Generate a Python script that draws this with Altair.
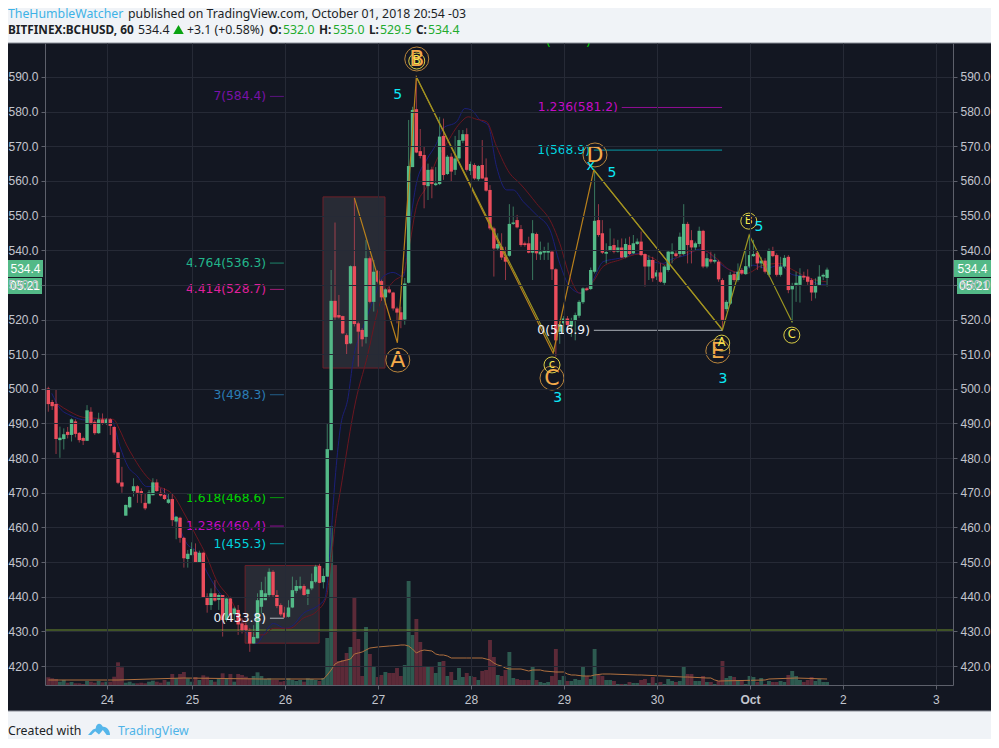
import altair as alt
import pandas as pd

opens = [500.1,496.2,495.6,485.2,485.5,487.6,486.7,490.6,487.3,485.8,485.0,493.4,490.5,487.2,491.2,489.9,491.2,489.0,481.7,473.0,
463.4,465.8,470.5,471.9,470.5,467.1,466.9,469.3,473.0,470.0,469.4,467.1,468.2,461.7,462.8,457.0,450.9,452.0,453.0,450.0,
452.7,440.0,437.6,441.0,439.1,440.5,433.3,439.5,435.0,436.2,432.3,431.8,430.2,426.5,428.0,437.1,439.0,440.5,447.2,440.5,
437.6,435.4,434.2,436.9,441.7,442.4,443.1,440.8,442.4,444.3,448.9,444.2,445.8,482.3,525.4,521.3,521.0,515.5,513.1,535.4,
518.9,517.0,515.0,537.7,525.1,534.0,531.1,526.4,528.7,527.8,523.2,522.1,520.0,530.6,564.0,580.7,568.6,567.5,558.5,563.3,
558.8,559.1,573.0,562.0,567.0,563.2,566.5,571.6,573.5,562.9,564.6,560.5,564.6,561.0,557.4,546.3,540.5,541.0,538.1,538.4,
547.6,548.7,546.1,542.0,542.0,539.3,544.7,538.8,539.3,539.3,539.6,534.5,516.5,518.9,520.3,518.0,519.7,521.1,525.0,529.0,
528.8,533.8,548.7,544.9,539.0,539.9,541.5,539.6,540.8,538.0,541.5,539.1,541.8,542.5,538.9,535.3,537.2,532.4,533.6,530.6,
534.3,538.9,539.1,538.9,538.9,547.6,542.9,540.8,541.8,545.6,535.3,537.4,536.7,536.7,531.4,523.0,524.6,533.1,531.4,534.3,
533.1,535.3,538.3,539.3,536.2,537.0,532.9,540.0,538.6,532.9,535.3,538.1,528.7,529.7,530.0,532.6,532.4,531.4,527.8,530.0,
532.4,532.0]
highs = [500.6,496.8,499.9,489.1,488.6,489.0,491.5,491.2,487.5,486.2,495.3,494.7,491.0,493.1,492.9,491.5,491.5,489.2,481.7,477.5,
466.6,469.0,474.2,472.2,471.3,469.8,470.8,474.2,473.9,471.3,471.3,469.8,469.6,463.3,463.1,457.3,453.5,455.7,455.4,453.3,
453.0,441.0,442.4,444.8,441.0,440.5,440.0,440.0,437.1,437.6,433.8,432.5,430.9,431.8,441.0,444.3,445.8,448.2,447.7,441.9,
438.1,437.1,439.0,445.8,444.8,445.8,443.6,442.4,446.7,449.2,449.5,448.2,490.0,534.3,548.0,527.1,521.1,516.0,535.6,555.0,
519.4,517.5,543.0,538.2,537.2,534.3,531.5,529.0,529.5,528.0,523.7,523.7,532.0,577.6,581.4,590.0,575.0,569.9,565.0,564.1,
564.0,578.5,578.0,567.5,568.0,573.0,574.7,574.7,575.2,565.6,565.1,564.6,571.8,566.5,558.8,546.8,544.9,544.9,541.0,553.3,
552.6,550.2,547.3,542.5,543.9,548.7,545.1,542.5,541.0,542.2,539.9,534.8,520.0,521.0,521.0,520.5,522.0,525.6,529.3,529.3,
535.0,563.0,553.3,548.7,542.0,546.3,543.4,543.0,543.4,543.4,543.9,544.4,543.4,545.4,539.1,538.6,538.1,534.3,536.2,535.7,
540.0,542.0,540.0,545.1,553.3,548.2,545.8,542.5,546.8,545.9,539.1,539.6,539.0,537.2,531.9,525.6,533.8,533.8,536.2,534.8,
540.0,544.4,543.0,540.0,538.0,537.7,540.5,541.0,539.1,538.1,538.6,538.6,530.6,533.8,534.8,533.8,534.5,531.9,531.9,535.7,
533.3,535.0]
lows = [493.4,493.9,481.2,480.1,482.5,485.7,484.8,486.0,484.5,483.8,485.0,489.6,486.7,487.0,489.6,489.6,486.7,481.0,472.5,470.0,
463.4,465.5,468.9,467.1,467.0,465.0,466.7,469.3,470.3,468.9,467.9,466.8,460.4,456.6,455.6,448.4,448.4,452.0,450.0,450.0,
439.8,435.4,436.2,438.6,436.2,428.5,432.8,432.8,433.3,429.0,429.4,429.7,424.1,426.5,428.0,435.2,439.0,440.0,440.0,436.7,
434.4,434.0,434.0,436.7,441.0,441.9,440.3,437.6,441.9,443.9,443.9,442.4,445.8,482.3,519.9,520.3,515.8,509.8,512.9,518.0,
506.4,512.2,513.1,524.7,522.3,530.4,525.4,524.2,527.5,522.6,518.9,517.5,518.5,530.4,564.0,568.0,566.5,552.1,554.5,555.0,
558.5,558.8,560.3,561.7,559.8,561.7,566.0,570.9,562.7,561.7,560.3,559.8,560.5,556.9,545.8,532.4,540.0,537.2,531.4,538.1,
547.3,546.3,541.0,541.0,539.1,531.4,537.2,537.2,537.2,537.2,531.4,509.3,513.0,516.0,517.0,515.0,514.0,520.5,524.5,528.2,
528.5,533.3,543.9,538.9,536.2,539.6,539.1,539.3,537.7,537.7,538.6,538.9,541.5,538.3,529.5,531.4,530.9,531.4,530.6,530.0,
533.8,536.2,538.0,538.1,538.5,536.2,536.2,540.0,541.0,534.8,534.8,536.2,536.2,530.9,516.9,522.3,524.2,530.9,530.9,532.9,
532.9,534.8,538.1,534.3,534.8,533.3,532.4,538.0,532.4,532.4,534.8,527.6,519.1,525.1,524.9,531.4,530.0,525.4,526.1,529.7,
531.4,529.5]
closes = [495.6,495.0,485.5,485.9,486.9,486.7,491.2,487.0,485.2,485.0,493.8,489.9,487.2,491.2,489.9,491.2,489.3,481.6,472.9,471.8,
466.5,468.8,471.9,470.0,469.6,465.5,470.1,473.0,470.5,469.2,468.2,468.1,462.1,463.1,457.0,451.1,452.4,453.8,450.0,452.7,
439.8,437.6,441.0,438.9,440.5,433.3,439.5,434.7,436.6,432.0,430.4,430.4,426.5,428.4,439.0,441.9,441.0,447.2,440.5,437.3,
434.9,434.0,436.9,441.9,443.1,443.1,440.5,442.1,444.5,448.7,444.0,446.0,482.6,525.4,520.6,520.6,516.0,512.9,535.4,518.7,
516.5,514.3,537.7,525.1,533.8,530.9,526.4,528.7,527.8,523.2,522.0,519.9,530.4,564.3,580.5,568.2,567.2,558.8,563.2,559.1,
559.3,572.8,561.7,567.0,562.7,566.5,571.8,573.5,563.2,564.9,560.7,564.3,560.7,557.2,546.3,540.5,541.8,537.9,536.7,547.6,
548.0,546.6,541.5,541.5,539.3,544.9,539.1,539.6,539.8,539.8,534.5,514.0,518.7,520.3,518.4,519.7,521.3,525.1,529.0,528.5,
534.3,548.5,544.4,539.3,539.5,541.2,539.6,540.8,537.9,541.8,538.9,542.0,542.5,538.6,535.3,537.2,531.9,533.6,530.9,535.3,
539.6,539.6,538.3,543.9,547.6,541.5,540.8,542.0,545.6,535.3,537.7,536.7,537.2,531.6,519.9,525.1,532.9,531.4,533.8,533.3,
535.4,538.6,538.9,536.2,537.0,533.8,540.0,538.3,532.9,535.3,537.8,528.5,529.7,530.6,532.6,532.1,530.9,527.8,530.0,532.4,
532.9,534.4]
volumes = [7.7,6.7,6,3.3,5,2.3,3,1.7,1.7,1,4,3.3,2.3,4,2.7,3.3,3.3,8.3,22.7,17.7,
2.3,3.3,1.7,1.7,2.3,1.7,3.3,4.3,3.3,2.3,5,3.3,11,6.7,11,13,6.7,3.3,8,5,
9.7,8.3,5,3.3,6.7,11.7,6.7,11,3.3,11,10,8.3,6.7,9,12.7,9,6,6.7,5,5,
3.3,4,6.7,5,4,5,3.3,6.7,6,5,4,7,47,159,120,24,25,32,38,88,
46,9,58,31,19,8,10,13,12,12,17,9,20,104,50,66,43,19,19,19,
12,23,24,9,13,5,17,8,12,9,8,5,14,15,45,28,10,9,15,33,
7,6,5,5,5,19,5,3,2,3,9,36,5,9,4,4,6,5,19,9,
6,36,10,9,5,5,4,1,1,1,3,2,2,5,6,2,8,2,3,1,
6,4,3,4,18,11,11,4,4,9,3,3,1,4,24,7,9,8,5,5,
1,9,8,3,7,1,4,3,3,4,3,10,14,9,5,3,5,8,4,6,
3,3]
vol_ma_bars = [0,18,35,55,71,72,73,74,75,76,77,78,79,80,81,82,83,85,88,90,91,92,93,94,95,96,97,99,100,101,102,103,104,108,112,113,114,115,116,117,118,119,122,123,124,125,127,128,131,133,134,135,136,138,139,140,141,143,145,152,153,164,165,170,171,172,173,185,186,193,201]
vol_ma_vals = [5,5,7,6,6,10,15,21,23,24,25,26,31,32,33,35,37,38,39,39.5,40,40,39,36,32,34,35,34,31,30,30,29,27,27,27,26,25,22,20,19,17,16,16,15,14,15,15,14,13,13,11,10,10,9,9,9,10,11,11,10,10,8,8,7,7,5,4,5,6,7,6,6]
vol_ma_vals = vol_ma_vals[:len(vol_ma_bars)]

ema_fast_bars = [0.9,3,5.6,9.9,13.3,16.3,18.5,20.6,22.8,25.4,28,31,33.1,35.7,38.3,40.9,43.4,46.9,50.3,53.8,55.5,58.1,61.1,63.2,65.8,69.2,71.4,72.7,74,75.3,77.4,78.7,81.3,83.9,86.4,89,91.6,93.3,95,97.6,100.2,101.9,105.4,107.5,109.2,111.4,113.5,115.7,118.3,120,122.6,126,129.5,132,134.6,137.6,140.6,143.2,147.5,152.6,156.1,158.7,160.4,164.7,168.1,170.7,173.3,175.9,178.5,181.9,185.3,188.8,192.2,195.7,198.2,200.8]
ema_fast_vals = [498.7,494.4,492.4,491,491.5,491,483.3,477.5,475,471.8,471.8,468.4,462.1,455.4,453,447.2,442.4,437.6,430.9,426.5,429,432.3,430.9,431.8,435.2,437.1,439.5,453.5,473.7,488.1,497.7,508.3,517.9,525.6,532.4,533.6,532.4,546.8,559.3,566,570.8,575.2,577.1,580.9,580.5,577.6,576.1,564.1,557.4,557.4,554,550.2,545.8,536.2,529.5,527.6,531.4,536.7,537.7,539.1,536.7,536.2,537.2,538.6,540.3,539.1,536.2,534.3,533.3,535.7,534.8,535.7,532.9,532.4,530.4,530]
ema_slow_bars = [2.2,5.6,9,12.5,16.8,18.5,20.2,21.9,25.4,28,32.3,34.8,38.3,40.9,43.4,46.9,50.3,53.8,55.5,58.1,62.4,65.8,69.2,71.8,73.1,74.4,75.3,79.4,82.1,85.6,89,91.6,93.3,95,97.6,100.2,102.8,106.2,108.4,110.5,113.1,115.7,119.1,121.7,126,129.9,132,134.6,137.2,140.6,143.2,147.5,152.6,156.1,159.5,162.1,165.5,169,172.4,175.9,180.2,184.5,188.8,192.2,196.5,200.8]
ema_slow_vals = [495.8,493.4,491.8,491.5,491.2,488,483.8,480.4,474.7,472.2,469.3,464.6,457.3,451.6,444.8,439.5,432.8,429,429,430.9,430.9,433.8,435.7,440,451.6,464,470,496.8,508.3,524.7,530.9,533.3,542,552.6,558.3,566,570.8,576.6,578.5,577.8,577.1,569.9,562.2,559.3,553.5,547.8,542,532.4,527.6,530.9,535.3,537.2,538.9,537.7,535.7,537.7,539.6,540,537.7,534.3,533.3,535.7,536.2,534.3,531.9,530.9]

wave_bars = [79,90.1,95,130.3,140.8,174]
wave_prices = [555.1,513.3,590,510.3,563.2,517]
abc1_bars = [95,130.6]
abc1_prices = [590,510.8]
abc2_bars = [140.8,174,180.9,192]
abc2_prices = [563.2,517,544.4,519.2]

fib_text = ["7(584.4)","4.764(536.3)","4.414(528.7)","3(498.3)","1.618(468.6)","1.236(460.4)","1(455.3)","0(433.8)","1.236(581.2)","1(568.9)","0(516.9)"]
fib_price = [584.4,536.3,528.7,498.3,468.6,460.4,455.3,433.8,581.2,568.9,516.9]
fib_color = ["#7a12a8","#22b58a","#e01f9c","#2b7db5","#00d400","#c40cc4","#00d3de","#f0f3fa","#c40cc4","#00d3de","#f0f3fa"]
fib_end = [56.2,56.2,56.2,56.2,56.2,56.2,56.2,56.2,147,139.8,139.8]
fib_from = [57.2,57.2,57.2,57.2,57.2,57.2,57.2,57.2,148,140.8,140.8]
fib_to = [60.8,60.8,60.8,60.8,60.8,60.8,60.8,60.8,173.9,173.9,173.9]

zone_x = [70.9,50.8]; zone_x2 = [86.9,69.9]; zone_y = [555.4,449]; zone_y2 = [506,426.6]

big_letters = ["A","B","C","D","E"]
big_bars = [90.2,95.1,130,141.1,172.8]
big_prices = [508.3,595.2,503.1,567.5,510.9]
small_letters = ["B","c","A","B","C"]
small_bars = [95.1,130,173.8,180.8,191.9]
small_prices = [594.6,506.9,513.2,548.4,515.5]
count_text = ["5","3","5","3","5","x"]
count_bars = [90.2,131.5,145.5,174.1,183.4,140]
count_prices = [584.8,497.4,562.3,502.8,546.7,564.3]

price_ticks = list(range(420,600,10))
day_bars = [15.1,37.1,61.1,85.1,109.1,133.1,157.1,181.1,205.1,229.1]
day_names = ["24","25","26","27","28","29","30","Oct","2","3"]

UP, DOWN = "#53b987", "#eb4d5c"
VUP, VDOWN = "#2d5a50", "#5c2a38"
BG, LIGHT, GRID, AXIS, LBL = "#131722", "#f0f3f7", "#262a36", "#5d606b", "#c3c6ce"
LIGHTLBL = "Liberation Sans"
HEAD = "Noto Sans"
P_DOM = [414.53,599.81]
X_DOM = [-0.85,233.5]
W, H = 908, 642

bars = pd.DataFrame({"bar":range(len(opens)),"o":opens,"h":highs,"l":lows,"c":closes,"v":volumes})
bars["color"] = [UP if c>=o else DOWN for o,c in zip(opens,closes)]
bars["vcolor"] = [VUP if c>=o else VDOWN for o,c in zip(opens,closes)]
bars["top"] = bars[["o","c"]].max(axis=1)
bars["bot"] = bars[["o","c"]].min(axis=1)
fib = pd.DataFrame({"t":fib_text,"p":fib_price,"col":fib_color,"e":fib_end,"a":fib_from,"b":fib_to})
dummy = pd.DataFrame({"_":[0]})

xs = alt.Scale(domain=X_DOM, nice=False, zero=False, padding=0)
ys = alt.Scale(domain=P_DOM, nice=False, zero=False, padding=0)
vs = alt.Scale(domain=[0,H], nice=False, padding=0)
def X(f="bar"): return alt.X(f+":Q", scale=xs, axis=None)
def Y(f): return alt.Y(f+":Q", scale=ys, axis=None)
def Y2(f): return alt.Y2(f+":Q")
def pick(n): return alt.Color(n+":N", scale=None)

labelmap = "{" + ",".join(f"'{b}':'{n}'" for b,n in zip(day_bars,day_names)) + "}"
x_axis = alt.Axis(values=day_bars, labelExpr=f"{labelmap}[datum.value]", title=None,
    grid=True, gridColor=GRID, gridWidth=1, domainColor=AXIS, tickColor=AXIS, tickSize=4, zindex=1,
    labelColor=LBL, labelFont=LIGHTLBL, labelFontSize=12, labelPadding=5, labelFlush=False,
    labelOverlap=False, labelAngle=0,
    labelFontWeight={"condition":{"test":"datum.value==181.1","value":"bold"},"value":"normal"})
def price_axis(orient, grid):
    return alt.Axis(orient=orient, values=price_ticks, format=".1f", title=None, grid=grid, gridColor=GRID,
        domainColor=AXIS, tickColor=AXIS, tickSize=4, labelColor=LBL, labelFont=LIGHTLBL, zindex=1,
        labelFontSize=12, labelPadding=3, labelOverlap=False, labelFlush=False)

L = []
# zones
zones = pd.DataFrame({"a":zone_x,"b":zone_x2,"c":zone_y,"d":zone_y2})
L.append(alt.Chart(zones).mark_rect(fill="#ffffff", fillOpacity=0.09, stroke="#6e2029", strokeWidth=1).encode(
    x=X("a"), x2="b:Q", y=Y("c"), y2="d:Q"))
# volume
L.append(alt.Chart(bars).mark_bar(size=3.9).encode(
    x=X(), y=alt.Y("v:Q", scale=vs, axis=None), color=pick("vcolor")))
vma = pd.DataFrame({"bar":vol_ma_bars,"m":vol_ma_vals})
L.append(alt.Chart(vma).mark_line(color="#b0703f", strokeWidth=1).encode(
    x=X(), y=alt.Y("m:Q", scale=vs, axis=None)))
# level
L.append(alt.Chart(pd.DataFrame({"p":[430.4],"a":[X_DOM[0]],"b":[X_DOM[1]]})).mark_rule(color="#6f8f2c", strokeWidth=1).encode(
    x=X("a"), x2="b:Q", y=Y("p")))
# moving averages
for xv, yv, col in [(ema_fast_bars, ema_fast_vals, "#1b1f78"), (ema_slow_bars, ema_slow_vals, "#6b1620")]:
    L.append(alt.Chart(pd.DataFrame({"bar":xv,"p":yv})).mark_line(color=col, strokeWidth=1, interpolate="monotone").encode(x=X(), y=Y("p")))
# wicks: carries the left price axis and the time axis
L.append(alt.Chart(bars).mark_rule(strokeWidth=1, opacity=0.6).encode(
    x=alt.X("bar:Q", scale=xs, axis=x_axis),
    y=alt.Y("h:Q", scale=ys, axis=price_axis("left", True)), y2=Y2("l"), color=pick("color")))
L.append(alt.Chart(bars).mark_bar(size=3.4).encode(x=X(), y=Y("top"), y2=Y2("bot"), color=pick("color")))
# right price axis
L.append(alt.Chart(pd.DataFrame({"bar":[0],"p":[500]})).mark_point(opacity=0).encode(
    x=X(), y=alt.Y("p:Q", scale=ys, axis=price_axis("right", False))))
# harmonic legs
L.append(alt.Chart(pd.DataFrame({"bar":wave_bars,"p":wave_prices})).mark_line(color="#b9801c", strokeWidth=1.2).encode(x=X(), y=Y("p")))
L.append(alt.Chart(pd.DataFrame({"bar":abc1_bars,"p":abc1_prices})).mark_line(color="#9c9622", strokeWidth=1.2).encode(x=X(), y=Y("p")))
L.append(alt.Chart(pd.DataFrame({"bar":abc2_bars,"p":abc2_prices})).mark_line(color="#9c9622", strokeWidth=1.2).encode(x=X(), y=Y("p")))
# fib levels
L.append(alt.Chart(fib).mark_rule(strokeWidth=1, opacity=0.7).encode(x=X("a"), x2="b:Q", y=Y("p"), color=pick("col")))
L.append(alt.Chart(fib).mark_text(align="right", baseline="middle", font="DejaVu Sans", fontSize=12.3).encode(
    x=X("e"), y=Y("p"), text="t:N", color=pick("col")))
# pattern letters
big = pd.DataFrame({"t":big_letters,"bar":big_bars,"p":big_prices})
L.append(alt.Chart(big).mark_point(shape="circle", size=576, filled=False, color="#b9853c", strokeWidth=1, opacity=1).encode(x=X(), y=Y("p")))
small = pd.DataFrame({"t":small_letters,"bar":small_bars,"p":small_prices})
L.append(alt.Chart(small).mark_point(shape="circle", size=256, filled=False, color="#d9cc44", strokeWidth=1, opacity=1).encode(x=X(), y=Y("p")))
L.append(alt.Chart(big).mark_text(font="DejaVu Sans", fontSize=22, color="#f2a94a", baseline="middle").encode(x=X(), y=Y("p"), text="t:N"))
L.append(alt.Chart(small).mark_text(font="DejaVu Sans", fontSize=11.5, color="#f5e74f", baseline="middle").encode(x=X(), y=Y("p"), text="t:N"))
counts = pd.DataFrame({"t":count_text,"bar":count_bars,"p":count_prices})
L.append(alt.Chart(counts).mark_text(font="DejaVu Sans", fontSize=14, color="#0ce8f5", baseline="middle").encode(x=X(), y=Y("p"), text="t:N"))

# clipped label fragments at the top edge
def px_text(txt, px, py, color, size=12.3, font=HEAD, weight="normal", align="left"):
    return alt.Chart(dummy).mark_text(text=txt, color=color, fontSize=size, font=font, fontWeight=weight,
        align=align, baseline="alphabetic").encode(x=alt.value(px-45), y=alt.value(py-43))
def px_rect(x0,x1,y0,y1,fill):
    return alt.Chart(dummy).mark_rect(fill=fill).encode(x=alt.value(x0-45), x2=alt.value(x1-45), y=alt.value(y0-43), y2=alt.value(y1-43))
L.append(px_text("(",546,46,"#00d400",12.5,"DejaVu Sans"))
L.append(px_text(")",586,46,"#00d400",12.5,"DejaVu Sans"))

# page chrome around the panel
L.append(px_rect(8,999,8,43,LIGHT))
L.append(px_rect(8,999,711,748,LIGHT))
L.append(alt.Chart(dummy).mark_rule(color="#8a8e97", strokeWidth=1).encode(x=alt.value(8-45), x2=alt.value(993-45), y=alt.value(0)))
L.append(alt.Chart(dummy).mark_rule(color="#8a8e97", strokeWidth=1).encode(x=alt.value(8-45), x2=alt.value(993-45), y=alt.value(711-43)))

# last price tags
for x0,x1 in [(8,43),(953,991)]:
    L.append(px_rect(x0,x1,260,277,UP))
for x0,x1 in [(8,42),(957,991)]:
    L.append(px_rect(x0,x1,278,294,UP))
for px in [25.5,972.5]:
    L.append(alt.Chart(dummy).mark_text(text="534.4", color="#ffffff", fontSize=12, font=LIGHTLBL, baseline="middle").encode(x=alt.value(px-45), y=alt.value(268.5-43)))
for px in [25,974]:
    L.append(alt.Chart(dummy).mark_text(text="05:21", color="#ffffff", fontSize=12, font=LIGHTLBL, baseline="middle").encode(x=alt.value(px-45), y=alt.value(286-43)))

# header
DK = "#1c1f26"; GREEN = "#22ab2e"
L.append(px_text("TheHumbleWatcher",8,17.5,"#3db2e6",12.3))
L.append(px_text("published on TradingView.com, October 01, 2018 20:54 -03",128,17.5,DK,12.3))
L.append(px_text("BITFINEX:BCHUSD, 60",8,34,DK,11.8,weight="bold"))
L.append(px_text("534.4",138,34,DK))
L.append(alt.Chart(dummy).mark_point(shape="triangle-up", filled=True, color="#0aa312", size=110, opacity=1).encode(x=alt.value(178.5-45), y=alt.value(29.5-43)))
L.append(px_text("+3.1 (+0.58%)",187,34,DK))
for lab,px in [("O:",269),("H:",319),("L:",369),("C:",416)]:
    L.append(px_text(lab,px,34,DK,11.8,weight="bold"))
for val,px in [("532.0",283),("535.0",333),("529.5",380),("534.4",428)]:
    L.append(px_text(val,px,34,GREEN))
# footer
L.append(px_text("Created with",8,735,DK,12.3))
L.append(alt.Chart(dummy).mark_point(filled=True, color="#55b6ea", opacity=1, size=484,
    shape="M-1,0.55 L-0.55,0.05 L-0.3,-0.05 C-0.25,-0.55 0.15,-0.6 0.35,-0.2 C0.7,-0.25 1,0.1 1,0.55 L0.7,0.55 L0.35,0.1 L0,0.5 L-0.35,0.2 L-0.7,0.55 Z").encode(
    x=alt.value(99-45), y=alt.value(729-43)))
L.append(px_text("TradingView",118,735,"#4fb3e8",12.3))

chart = alt.layer(*L).resolve_scale(x="independent", y="independent").properties(
    width=W, height=H,
    background=BG,
    padding={"left":37,"top":35,"right":38,"bottom":54},
    autosize=alt.AutoSizeParams(type="none", contains="content"),
).configure_view(stroke=None)

chart.save("out.html", embed_options={"renderer": "svg", "actions": False})
